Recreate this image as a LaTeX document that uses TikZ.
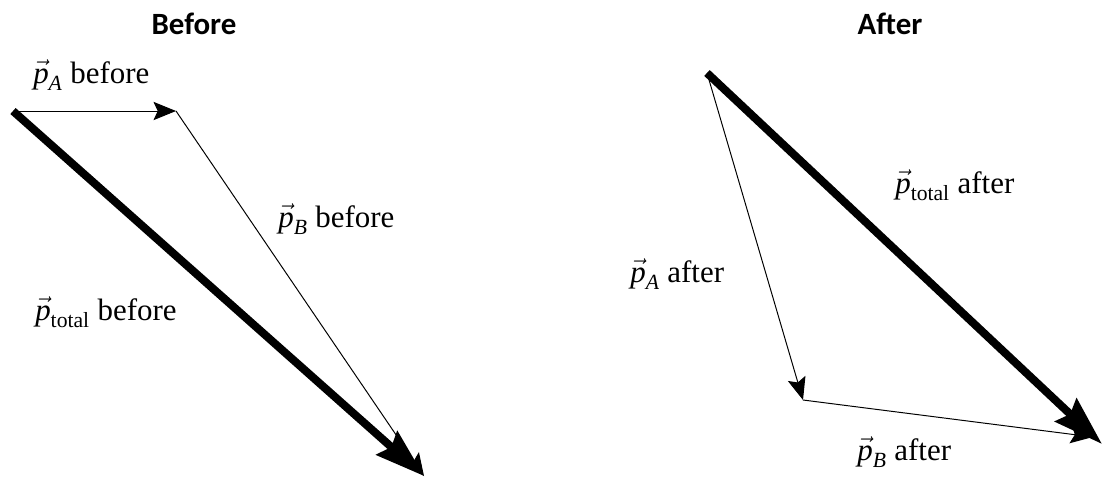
\documentclass[tikz,border=0pt]{standalone}
\usepackage{amsmath}
\usepackage{fontspec}
\setmainfont{Liberation Serif}
\newfontfamily\titlefont{Carlito}
\usetikzlibrary{arrows.meta}

\newcommand{\pv}[1]{$\vec{\text{\itshape p}}_{#1}$}

\tikzset{
  total/.style={line width=5.7pt,-{Stealth[length=35pt,width=22pt,inset=4pt]}},
  part/.style={line width=0.7pt,-{Stealth[length=16pt,width=13pt,inset=3pt]}},
  lbl/.style={anchor=base west,inner sep=0pt,font=\fontsize{22}{26}\selectfont},
  ttl/.style={anchor=base,inner sep=0pt,font=\titlefont\bfseries\fontsize{22}{26}\selectfont}
}

\begin{document}
\begin{tikzpicture}[x=0.025cm,y=-0.025cm]
\useasboundingbox (0,0) rectangle (1104,481);
% before
\coordinate (b0) at (13,111);
\coordinate (b1) at (176,111);
\coordinate (b2) at (424,476);
\draw[total] (b0)--(b2);
\draw[part] (b0)--(b1);
\draw[part] (b1)--(b2);
\node[ttl] (tb) at (194,34) {Before};
\node[lbl] (pab) at (33,83) {\pv{\text{\itshape A}} before};
\node[lbl] (pbb) at (278,227) {\pv{\text{\itshape B}} before};
\node[lbl] (ptb) at (35,320) {\pv{\text{total}} before};
% after
\coordinate (a0) at (707,73);
\coordinate (a1) at (803,400);
\coordinate (a2) at (1093,437);
\coordinate (a3) at (1102,444);
\draw[total] (a0)--(a3);
\draw[part] (a0)--(a1);
\draw[part] (a1)--(a2);
\node[ttl] (ta) at (890,34) {After};
\node[lbl] (pta) at (895,193) {\pv{\text{total}} after};
\node[lbl] (paa) at (630,282) {\pv{\text{\itshape A}} after};
\node[lbl] (pba) at (857,460) {\pv{\text{\itshape B}} after};
\end{tikzpicture}
\end{document}
